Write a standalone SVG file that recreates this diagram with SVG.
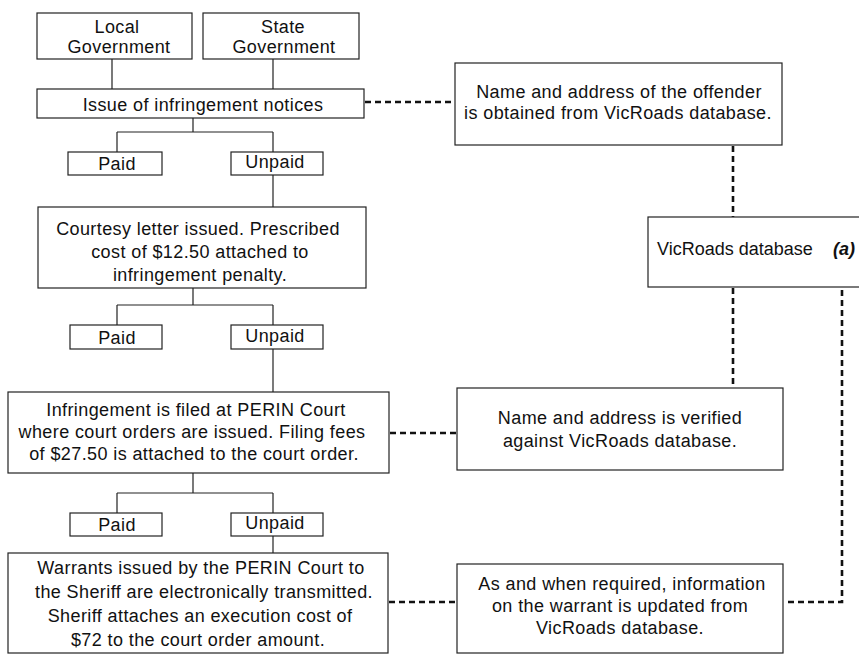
<svg xmlns="http://www.w3.org/2000/svg" width="859" height="655" viewBox="0 0 859 655">
<style>
.box{fill:#fff;stroke:#222;stroke-width:1.2}
.t{font-family:"Liberation Sans",Arial,sans-serif;font-size:18px;letter-spacing:0.4px;fill:#111;text-anchor:middle}
.ln{fill:none;stroke:#222;stroke-width:1.2}
.dash{fill:none;stroke:#111;stroke-width:2.6;stroke-dasharray:6 4}
</style>
<rect width="859" height="655" fill="#fff"/>
<g id="connectors">
<path class="ln" d="M112 59V89M273 59V89"/>
<path class="ln" d="M193 118V132M117 132H273M117 132V152M273 132V152"/>
<path class="ln" d="M273 175V207"/>
<path class="ln" d="M193 288V305M117 305H273M117 305V325M273 305V325"/>
<path class="ln" d="M273 349V392"/>
<path class="ln" d="M193 473V493M117 493H273M117 493V513M273 493V513"/>
<path class="ln" d="M273 536V553"/>
<path class="dash" d="M365 102H455"/>
<path class="dash" d="M733 146V217"/>
<path class="dash" d="M733 288V388"/>
<path class="dash" d="M390 433H457"/>
<path class="dash" d="M389 602H457"/>
<path class="dash" d="M842 290V602H784"/>
</g>
<g id="local-gov"><rect class="box" x="37" y="13" width="155" height="46"/><text class="t" x="117" y="33">Local</text><text class="t" x="119" y="53">Government</text></g>
<g id="state-gov"><rect class="box" x="203" y="13" width="156" height="46"/><text class="t" x="283" y="33">State</text><text class="t" x="284" y="53">Government</text></g>
<g id="issue"><rect class="box" x="37" y="89" width="327" height="29"/><text class="t" x="203" y="111">Issue of infringement notices</text></g>
<g id="paid1"><rect class="box" x="68" y="152" width="94" height="23"/><text class="t" x="117" y="170">Paid</text></g>
<g id="unpaid1"><rect class="box" x="231" y="152" width="92" height="23"/><text class="t" x="275" y="168">Unpaid</text></g>
<g id="courtesy"><rect class="box" x="38" y="207" width="328" height="81"/><text class="t" x="198" y="235">Courtesy letter issued. Prescribed</text><text class="t" x="200" y="258">cost of $12.50 attached to</text><text class="t" x="200" y="281">infringement penalty.</text></g>
<g id="paid2"><rect class="box" x="70" y="325" width="92" height="24"/><text class="t" x="117" y="344">Paid</text></g>
<g id="unpaid2"><rect class="box" x="231" y="325" width="92" height="24"/><text class="t" x="275" y="342">Unpaid</text></g>
<g id="perin"><rect class="box" x="8" y="392" width="381" height="81"/><text class="t" x="196" y="416">Infringement is filed at PERIN Court</text><text class="t" x="192" y="438">where court orders are issued. Filing fees</text><text class="t" x="194" y="460">of $27.50 is attached to the court order.</text></g>
<g id="paid3"><rect class="box" x="70" y="513" width="92" height="23"/><text class="t" x="117" y="531">Paid</text></g>
<g id="unpaid3"><rect class="box" x="231" y="513" width="92" height="23"/><text class="t" x="275" y="529">Unpaid</text></g>
<g id="warrants"><rect class="box" x="8" y="553" width="380" height="100"/><text class="t" x="201" y="574">Warrants issued by the PERIN Court to</text><text class="t" x="204" y="598">the Sheriff are electronically transmitted.</text><text class="t" x="200" y="622">Sheriff attaches an execution cost of</text><text class="t" x="198" y="646">$72 to the court order amount.</text></g>
<g id="name-address"><rect class="box" x="455" y="63" width="327" height="82"/><text class="t" x="619" y="98">Name and address of the offender</text><text class="t" x="618" y="119">is obtained from VicRoads database.</text></g>
<g id="vicroads"><rect class="box" x="648" y="217" width="214" height="70"/><text class="t" x="657" y="255" style="text-anchor:start;letter-spacing:0">VicRoads database</text><text class="t" x="833" y="255" style="text-anchor:start;letter-spacing:0;font-weight:bold;font-style:italic">(a)</text></g>
<g id="verified"><rect class="box" x="457" y="388" width="326" height="82"/><text class="t" x="620" y="424">Name and address is verified</text><text class="t" x="620" y="447">against VicRoads database.</text></g>
<g id="updated"><rect class="box" x="457" y="564" width="326" height="89"/><text class="t" x="622" y="590">As and when required, information</text><text class="t" x="620" y="612">on the warrant is updated from</text><text class="t" x="620" y="634">VicRoads database.</text></g>
</svg>
